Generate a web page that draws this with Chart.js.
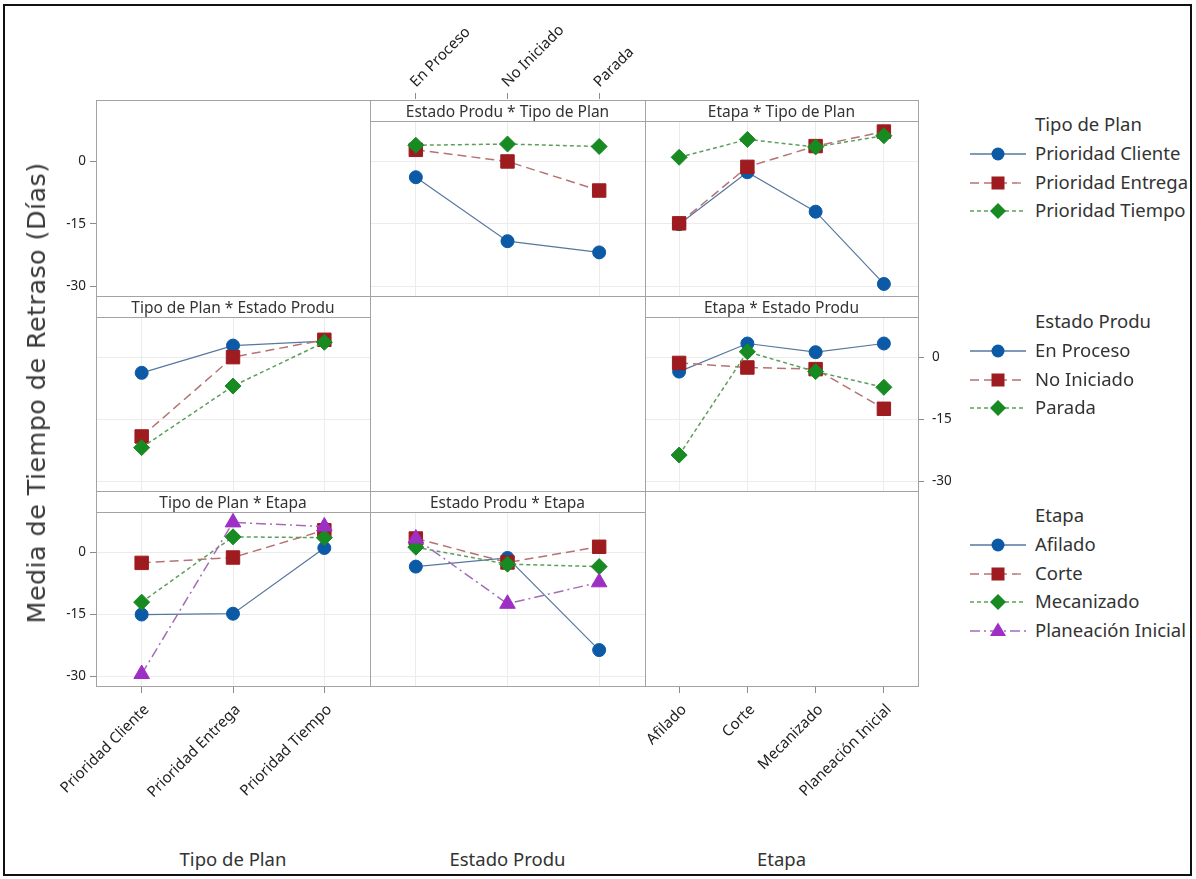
<!DOCTYPE html>
<html>
<head>
<meta charset="utf-8">
<script src="https://cdn.jsdelivr.net/npm/chart.js@4.4.0/dist/chart.umd.min.js"></script>
<style>
  html,body{margin:0;padding:0;background:#fff;}
  body{width:1196px;height:879px;overflow:hidden;position:relative;font-family:'Noto Sans',sans-serif;color:#333;}
  canvas{position:absolute;z-index:1;}
  .line{position:absolute;background:#a3a3a3;z-index:3;}
  .strip{position:absolute;z-index:3;text-align:center;font-size:15.5px;line-height:22px;height:22px;color:#333;border-bottom:1px solid #a3a3a3;box-sizing:border-box;white-space:nowrap;}
  .txt{position:absolute;z-index:4;white-space:nowrap;}
  .leg{position:absolute;z-index:4;font-size:18.5px;line-height:24px;color:#333;white-space:nowrap;}
  .sym{position:absolute;z-index:4;}
</style>
</head>
<body>
<div id="outer" style="position:absolute;left:3px;top:4px;width:1185px;height:868px;border:2.5px solid #111;z-index:5;"></div>
<script>
// ---------------- DATA ----------------
const tipoPlan = ['Prioridad Cliente', 'Prioridad Entrega', 'Prioridad Tiempo'];
const estadoProdu = ['En Proceso', 'No Iniciado', 'Parada'];
const etapa = ['Afilado', 'Corte', 'Mecanizado', 'Planeación Inicial'];
const yTicks = [-30, -15, 0];

// Media por Tipo de Plan x Estado Produ (En Proceso, No Iniciado, Parada)
const clientePorEstado = [-3.8, -19.2, -21.9];
const entregaPorEstado = [2.8, 0.0, -7.0];
const tiempoPorEstado  = [3.9, 4.2, 3.6];

// Media por Tipo de Plan x Etapa (Afilado, Corte, Mecanizado, Planeación Inicial)
const clientePorEtapa = [-15.1, -2.6, -12.1, -29.5];
const entregaPorEtapa = [-14.9, -1.3, 3.7, 7.2];
const tiempoPorEtapa  = [1.0, 5.3, 3.5, 6.2];

// Media por Estado Produ x Etapa (Afilado, Corte, Mecanizado, Planeación Inicial)
const enProcesoPorEtapa  = [-3.5, 3.3, 1.2, 3.3];
const noIniciadoPorEtapa = [-1.4, -2.5, -2.9, -12.5];
const paradaPorEtapa     = [-23.7, 1.3, -3.5, -7.3];

// ---------------- LAYOUT / STYLE ----------------
const COLS = [96, 370, 645, 918];
const ROWS = [100, 296, 491, 686];
const STRIP_H = 22;
const Y_MIN = -32.4, Y_MAX = 14.8;
const FONT = 'Noto Sans';

const styles = [
  {pointStyle:'circle',   radius:6.5, color:'#0c5aa6', line:'#56779e', dash:[],          width:1.2},
  {pointStyle:'rect',     radius:9.5, color:'#9e1b1f', line:'#b57373', dash:[9,5],       width:1.5},
  {pointStyle:'rectRot',  radius:8,   color:'#178a22', line:'#5d9e5d', dash:[4,3],       width:1.5},
  {pointStyle:'triangle', radius:9,   color:'#9d2fc4', line:'#a36cb8', dash:[10,4,2,4],  width:1.5}
];

function ds(label, data, i){
  const s = styles[i];
  return {label, data, borderColor:s.line, borderWidth:s.width, borderDash:s.dash,
    pointStyle:s.pointStyle, pointRadius:s.radius, pointHoverRadius:s.radius,
    pointBackgroundColor:s.color, pointBorderColor:s.color, pointBorderWidth:1,
    tension:0, fill:false, order:10 - i};
}
function col(arrs, j){ return arrs.map(a => a[j]); }

const stripPlugin = {
  id:'strip',
  beforeDatasetsDraw(chart, args, opts){
    if(!opts || !opts.h) return;
    const a = chart.chartArea, c = chart.ctx;
    c.save(); c.fillStyle = '#fff';
    c.fillRect(a.left - 1, a.top - 1, a.right - a.left + 2, opts.h + 1);
    c.restore();
  }
};

function makeChart(o){
  const x0 = COLS[o.c], x1 = COLS[o.c+1], y0 = ROWS[o.r], y1 = ROWS[o.r+1];
  const eL = o.yPos === 'left' ? 70 : 0, eR = o.yPos === 'right' ? 70 : 0;
  const eT = o.xPos === 'top' ? 100 : 0, eB = o.xPos === 'bottom' ? 150 : 0;
  const W = x1 - x0 + eL + eR, H = y1 - y0 + eT + eB;
  const cv = document.createElement('canvas');
  cv.width = W; cv.height = H;
  cv.style.left = (x0 - eL) + 'px'; cv.style.top = (y0 - eT) + 'px';
  cv.style.width = W + 'px'; cv.style.height = H + 'px';
  document.body.appendChild(cv);
  const hasData = o.datasets.length > 0;
  const isTop = o.xPos === 'top';
  new Chart(cv, {
    type:'line',
    data:{labels:o.labels, datasets:o.datasets},
    options:{
      responsive:false, animation:false, devicePixelRatio:1,
      layout:{padding:0, autoPadding:false},
      plugins:{legend:{display:false}, tooltip:{enabled:false}, strip:{h: o.strip ? STRIP_H : 0}},
      scales:{
        x:{type:'category', position: isTop ? 'top' : 'bottom', offset:true,
          grid:{offset:false, color:'#ececec', drawOnChartArea:hasData, drawTicks:o.xPos !== 'none',
                tickLength:7, tickColor:'#8c8c8c', lineWidth:1},
          border:{display:false},
          ticks:{display:o.xPos !== 'none', minRotation:45, maxRotation:45, autoSkip:false,
                 padding: isTop ? 2 : 8, labelOffset: isTop ? 10 : 5,
                 color:'#222', font:{family:FONT, size:15}},
          afterFit(s){ s.height = isTop ? eT : eB; s.paddingLeft = 0; s.paddingRight = 0; s.paddingTop = 0; s.paddingBottom = 0; }
        },
        y:{type:'linear', position: o.yPos === 'right' ? 'right' : 'left', min:Y_MIN, max:Y_MAX,
          afterBuildTicks(s){ s.ticks = yTicks.map(v => ({value:v})); },
          grid:{color:'#ececec', drawOnChartArea:hasData, drawTicks:o.yPos !== 'none',
                tickLength:6, tickColor:'#8c8c8c', lineWidth:1},
          border:{display:false},
          ticks:{display:o.yPos !== 'none', padding:o.yPos === 'right' ? 8 : 4, color:'#222', font:{family:FONT, size:13.5}},
          afterFit(s){ s.width = o.yPos === 'left' ? eL : (o.yPos === 'right' ? eR : 0); s.paddingTop = 0; s.paddingBottom = 0; s.paddingLeft = 0; s.paddingRight = 0; }
        }
      }
    },
    plugins:[stripPlugin]
  });
  if(o.title){
    const d = document.createElement('div');
    d.className = 'strip';
    d.style.left = x0 + 'px'; d.style.top = y0 + 'px'; d.style.width = (x1 - x0) + 'px';
    d.textContent = o.title;
    document.body.appendChild(d);
  }
}

const tipoSeriesEstado = [clientePorEstado, entregaPorEstado, tiempoPorEstado];
const tipoSeriesEtapa  = [clientePorEtapa, entregaPorEtapa, tiempoPorEtapa];
const estadoSeriesEtapa = [enProcesoPorEtapa, noIniciadoPorEtapa, paradaPorEtapa];

// Row 1
makeChart({c:0, r:0, labels:[], xPos:'none', yPos:'left', datasets:[]});
makeChart({c:1, r:0, labels:estadoProdu, xPos:'top', yPos:'none', strip:true, title:'Estado Produ * Tipo de Plan',
  datasets: tipoPlan.map((n,i) => ds(n, tipoSeriesEstado[i], i))});
makeChart({c:2, r:0, labels:etapa, xPos:'none', yPos:'none', strip:true, title:'Etapa * Tipo de Plan',
  datasets: tipoPlan.map((n,i) => ds(n, tipoSeriesEtapa[i], i))});
// Row 2
makeChart({c:0, r:1, labels:tipoPlan, xPos:'none', yPos:'none', strip:true, title:'Tipo de Plan * Estado Produ',
  datasets: estadoProdu.map((n,j) => ds(n, col(tipoSeriesEstado, j), j))});
makeChart({c:2, r:1, labels:etapa, xPos:'none', yPos:'right', strip:true, title:'Etapa * Estado Produ',
  datasets: estadoProdu.map((n,i) => ds(n, estadoSeriesEtapa[i], i))});
// Row 3
makeChart({c:0, r:2, labels:tipoPlan, xPos:'bottom', yPos:'left', strip:true, title:'Tipo de Plan * Etapa',
  datasets: etapa.map((n,j) => ds(n, col(tipoSeriesEtapa, j), j))});
makeChart({c:1, r:2, labels:estadoProdu, xPos:'none', yPos:'none', strip:true, title:'Estado Produ * Etapa',
  datasets: etapa.map((n,j) => ds(n, col(estadoSeriesEtapa, j), j))});
makeChart({c:2, r:2, labels:etapa, xPos:'bottom', yPos:'none', datasets:[]});

// Frame lines
function hline(x0, x1, y){ const d=document.createElement('div'); d.className='line'; d.style.left=x0+'px'; d.style.top=y+'px'; d.style.width=(x1-x0+1)+'px'; d.style.height='1px'; document.body.appendChild(d); }
function vline(x, y0, y1){ const d=document.createElement('div'); d.className='line'; d.style.left=x+'px'; d.style.top=y0+'px'; d.style.width='1px'; d.style.height=(y1-y0+1)+'px'; document.body.appendChild(d); }
ROWS.forEach(y => hline(COLS[0], COLS[3], y));
COLS.forEach(x => vline(x, ROWS[0], ROWS[3]));

// Axis titles
function text(t, x, y, size, extra){
  const d = document.createElement('div'); d.className = 'txt'; d.textContent = t;
  d.style.fontSize = size + 'px'; d.style.left = x + 'px'; d.style.top = y + 'px';
  d.style.transform = 'translate(-50%,-50%)' + (extra || ''); d.style.color = '#333';
  document.body.appendChild(d); return d;
}
text('Tipo de Plan', (COLS[0]+COLS[1])/2, 858, 18.5);
text('Estado Produ', (COLS[1]+COLS[2])/2, 858, 18.5);
text('Etapa', (COLS[2]+COLS[3])/2, 858, 18.5);
const yt = text('Media de Tiempo de Retraso (Días)', 36, 393, 25.5, ' rotate(-90deg)');
yt.style.fontFamily = 'DejaVu Sans';
yt.style.letterSpacing = '0.4px';
yt.style.color = '#3a3a3a';

// Legends
function sym(s){
  const dash = s.dash.length ? `stroke-dasharray="${s.dash.join(',')}"` : '';
  let m;
  if(s.pointStyle === 'circle') m = `<circle cx="30" cy="10" r="6.5" fill="${s.color}"/>`;
  else if(s.pointStyle === 'rect') m = `<rect x="23.5" y="3.5" width="13" height="13" fill="${s.color}"/>`;
  else if(s.pointStyle === 'rectRot') m = `<polygon points="30,2 38,10 30,18 22,10" fill="${s.color}"/>`;
  else m = `<polygon points="30,1.5 38,15 22,15" fill="${s.color}"/>`;
  return `<svg width="60" height="20" xmlns="http://www.w3.org/2000/svg"><line x1="2" y1="10" x2="58" y2="10" stroke="${s.line}" stroke-width="1.3" ${dash}/>${m}</svg>`;
}
function legend(title, names, y0){
  const step = 28.8;
  const h = document.createElement('div'); h.className = 'leg'; h.textContent = title;
  h.style.left = '1035px'; h.style.top = (y0 - 13) + 'px'; document.body.appendChild(h);
  names.forEach((n, i) => {
    const y = y0 + step * (i + 1);
    const sv = document.createElement('div'); sv.className = 'sym'; sv.innerHTML = sym(styles[i]);
    sv.style.left = '968px'; sv.style.top = (y - 10) + 'px'; document.body.appendChild(sv);
    const t = document.createElement('div'); t.className = 'leg'; t.textContent = n;
    t.style.left = '1035px'; t.style.top = (y - 13) + 'px'; document.body.appendChild(t);
  });
}
legend('Tipo de Plan', tipoPlan, 125);
legend('Estado Produ', estadoProdu, 322);
legend('Etapa', etapa, 516);
</script>
</body>
</html>
